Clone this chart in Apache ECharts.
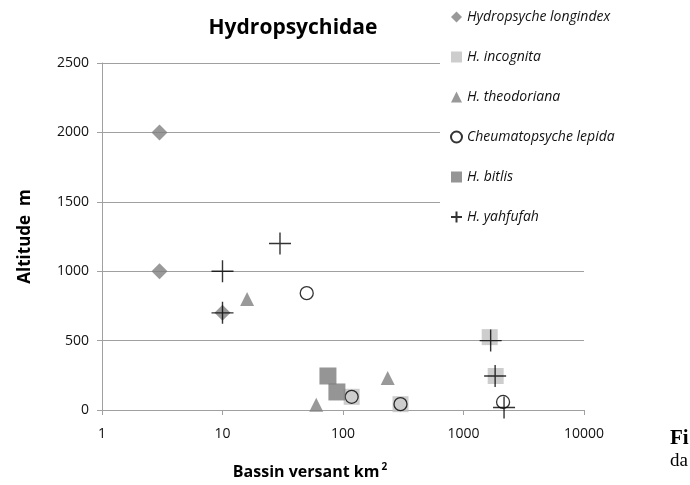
<!DOCTYPE html>
<html>
<head>
<meta charset="utf-8">
<script src="https://cdn.jsdelivr.net/npm/echarts@6/dist/echarts.min.js"></script>
<style>
  html, body { margin: 0; padding: 0; background: #fff; }
  #chart { width: 690px; height: 485px; }
</style>
</head>
<body>
<div id="chart"></div>
<script>
// bassin versant (km2) / altitude (m)
var longindex = [[3, 2000], [3, 1000], [10, 700]];
var incognita = [[118, 95], [300, 42], [1650, 525], [1850, 245]];
var theodoriana = [[16, 800], [60, 38], [235, 230]];
var lepida = [[50, 842], [118, 95], [300, 42], [2130, 58]];
var bitlis = [[75, 245], [89, 130]];
var yahfufah = [[10, 1000], [30, 1200], [10, 700], [1680, 500], [1830, 245], [2170, 18]];
var yTicks = [0, 500, 1000, 1500, 2000, 2500];

var font = '"Open Sans", Lato, sans-serif';
var crossPath = 'path://M0,5L10,5M5,0L5,10';

var myChart = echarts.init(document.getElementById('chart'));
myChart.setOption({
    animation: false,
    textStyle: {fontFamily: font},
    title: {
        text: 'Hydropsychidae',
        left: 288,
        textAlign: 'center',
        top: 13,
        textStyle: {fontSize: 21, fontWeight: 'bold', color: '#000', fontFamily: font}
    },
    legend: {
        orient: 'vertical',
        left: 440,
        top: 0,
        padding: [10, 20, 10, 10],
        backgroundColor: '#fff',
        z: 10,
        itemWidth: 11,
        itemHeight: 11,
        itemGap: 26,
        textStyle: {fontSize: 14, fontStyle: 'italic', color: '#111', fontFamily: font},
        data: ['Hydropsyche longindex', 'H. incognita', 'H. theodoriana', 'Cheumatopsyche lepida', 'H. bitlis', 'H. yahfufah']
    },
    grid: {left: 102, right: 106, top: 63, bottom: 74},
    xAxis: {
        type: 'log',
        logBase: 10,
        min: 1,
        max: 10000,
        name: 'Bassin versant km{s|2}',
        nameLocation: 'middle',
        nameGap: 52,
        nameTextStyle: {
            fontSize: 16, fontWeight: 'bold', color: '#000', padding: [0, 66, 0, 0],
            rich: {s: {fontSize: 10, fontWeight: 'bold', color: '#000', verticalAlign: 'top', padding: [0, 0, 10, 2]}}
        },
        axisLine: {lineStyle: {color: '#a0a0a0', width: 1}},
        axisTick: {show: true, length: 5, lineStyle: {color: '#a0a0a0'}},
        minorTick: {show: false},
        splitLine: {show: false},
        axisLabel: {fontSize: 14, color: '#111', margin: 17,
            formatter: function (v) { return String(Math.round(v)); }}
    },
    yAxis: {
        type: 'value',
        min: 0,
        max: 2500,
        interval: 500,
        name: 'Altitude  m',
        nameLocation: 'middle',
        nameGap: 68,
        nameTextStyle: {fontSize: 17, fontWeight: 'bold', color: '#000'},
        axisLine: {show: true, lineStyle: {color: '#a0a0a0', width: 1}},
        axisTick: {show: true, length: 5, lineStyle: {color: '#a0a0a0'}},
        splitLine: {lineStyle: {color: '#a0a0a0', width: 1}},
        axisLabel: {fontSize: 14, color: '#111', margin: 13,
            formatter: function (v) { return yTicks.indexOf(v) >= 0 ? String(v) : ''; }}
    },
    series: [
        {name: 'Hydropsyche longindex', type: 'scatter', symbol: 'diamond', symbolSize: 16,
            itemStyle: {color: '#808080'}, data: longindex},
        {name: 'H. incognita', type: 'scatter', symbol: 'rect', symbolSize: 16,
            itemStyle: {color: '#c0c0c0'}, data: incognita},
        {name: 'H. theodoriana', type: 'scatter', symbol: 'triangle', symbolSize: 14,
            itemStyle: {color: '#808080'}, data: theodoriana},
        {name: 'Cheumatopsyche lepida', type: 'scatter', symbol: 'circle', symbolSize: 13,
            itemStyle: {color: 'rgba(255,255,255,0)', borderColor: '#000', borderWidth: 1.3}, data: lepida},
        {name: 'H. bitlis', type: 'scatter', symbol: 'rect', symbolSize: 17,
            itemStyle: {color: '#7a7a7a'}, data: bitlis},
        {name: 'H. yahfufah', type: 'scatter', symbol: crossPath, symbolSize: 22,
            itemStyle: {color: 'rgba(0,0,0,0)', borderColor: '#000', borderWidth: 1.4}, data: yahfufah}
    ],
    graphic: [
        {type: 'text', left: 670, top: 428, style: {text: 'Fi', fontSize: 21, fontWeight: 'bold', fontFamily: '"Liberation Serif", serif', fill: '#000'}},
        {type: 'text', left: 670, top: 452, style: {text: 'da', fontSize: 19, fontFamily: '"Liberation Serif", serif', fill: '#000'}}
    ]
});
</script>
</body>
</html>
